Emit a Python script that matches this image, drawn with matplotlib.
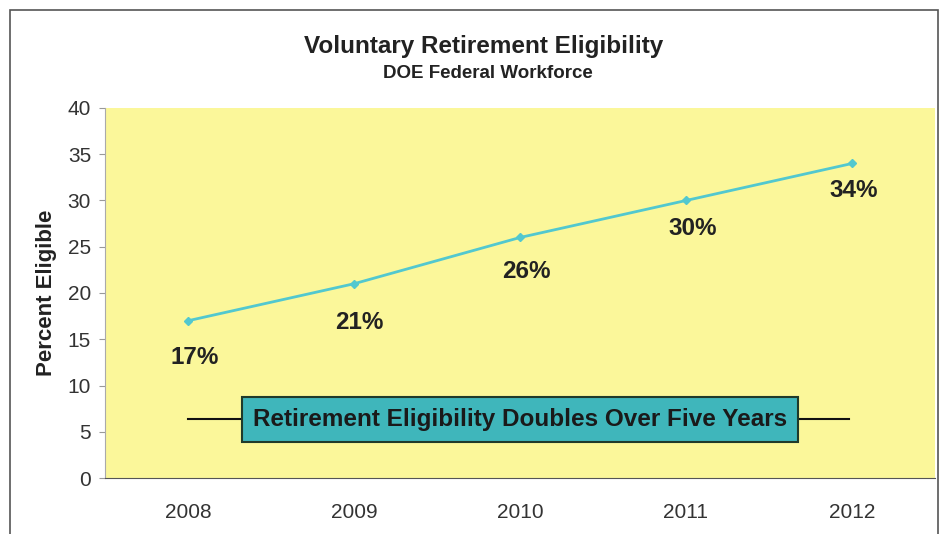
import matplotlib.pyplot as plt
from matplotlib.patches import Rectangle

plt.rcParams['font.family'] = ['Liberation Sans', 'DejaVu Sans']

years = ['2008', '2009', '2010', '2011', '2012']
percent = [17, 21, 26, 30, 34]
pct_labels = ['17%', '21%', '26%', '30%', '34%']

# label placement relative to each point (x, y in data units)
label_dx = [0.04, 0.03, 0.04, 0.04, 0.01]
label_dy = [-4.0, -4.2, -3.7, -3.0, -2.9]

fig = plt.figure(figsize=(9.49, 5.34), dpi=100)
fig.patch.set_facecolor('white')

# outer chart frame
fig.add_artist(Rectangle((10 / 949, -0.05), 928 / 949, 1 - 10 / 534 + 0.05,
                         transform=fig.transFigure, fill=False,
                         edgecolor='#555555', lw=1.2))

ax = fig.add_axes([105 / 949, 56 / 534, 830 / 949, 370 / 534])
ax.set_facecolor('#fbf79a')

x = range(len(years))
ax.plot(x, percent, color='#52c8cf', lw=2, marker='D', ms=4, zorder=3)
for xi, v, lab, dx, dy in zip(x, percent, pct_labels, label_dx, label_dy):
    ax.text(xi + dx, v + dy, lab, ha='center', va='center',
            fontsize=17.5, fontweight='bold', color='#222222')

ax.set_xlim(-0.5, 4.5)
ax.set_ylim(0, 40)
ax.set_yticks(range(0, 41, 5))
ax.set_xticks(list(x))
ax.set_xticklabels(years)
ax.tick_params(axis='x', labelsize=15, colors='#333333', length=0, pad=18)
ax.tick_params(axis='y', labelsize=15, colors='#333333', length=4,
               direction='out', color='#999999', pad=6)
for side in ['top', 'right']:
    ax.spines[side].set_visible(False)
ax.spines['left'].set_color('#aaaaaa')
ax.spines['bottom'].set_color('#555555')
ax.set_ylabel('Percent Eligible', fontsize=16, fontweight='bold',
              color='#222222', labelpad=8)

# callout banner
ax.plot([0, 3.98], [6.4, 6.4], color='#111111', lw=1.5, zorder=2)
ax.text(2.0, 6.3, 'Retirement Eligibility Doubles Over Five Years',
        ha='center', va='center', fontsize=17.5, fontweight='bold',
        color='#1a1a1a', zorder=4,
        bbox=dict(boxstyle='square,pad=0.45', facecolor='#3fb6bb',
                  edgecolor='#1f3a2a', lw=1.5))

fig.text(484 / 949, 1 - 46 / 534, 'Voluntary Retirement Eligibility',
         ha='center', va='center', fontsize=17.5, fontweight='bold',
         color='#222222')
fig.text(488 / 949, 1 - 74 / 534, 'DOE Federal Workforce', ha='center',
         va='center', fontsize=13.5, fontweight='bold', color='#222222')

fig.savefig('out.png', dpi=100)
